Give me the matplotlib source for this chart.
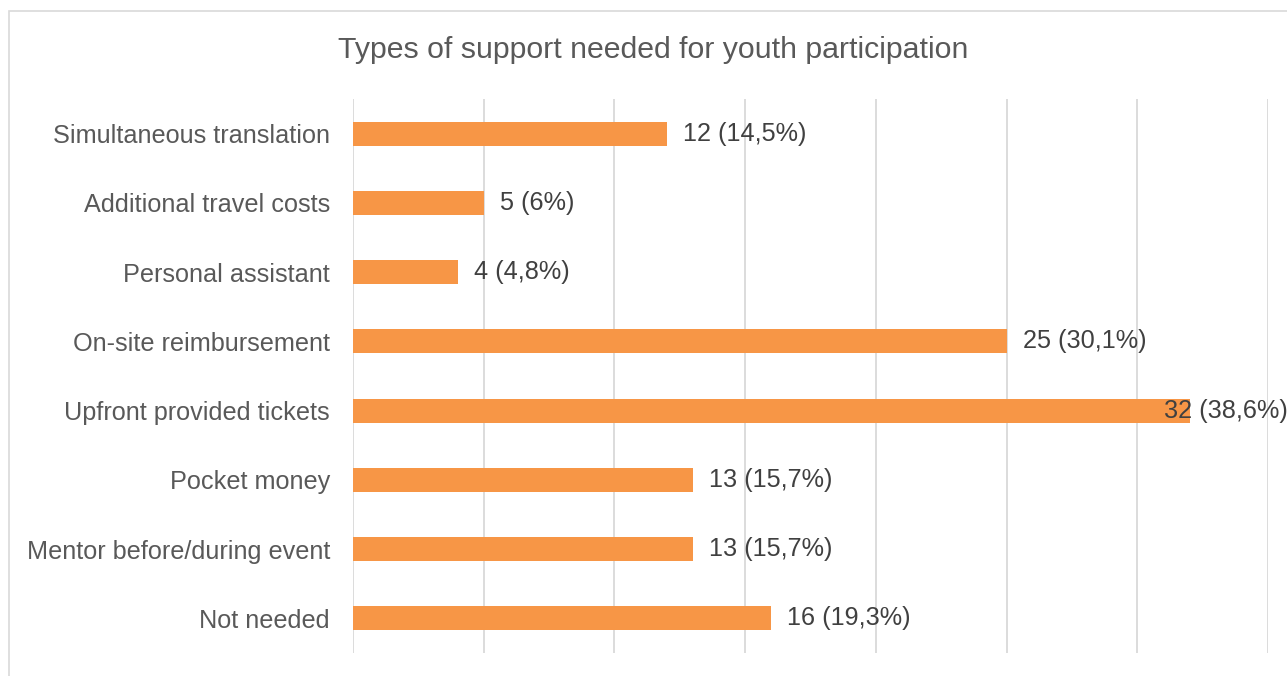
import matplotlib
matplotlib.use("Agg")
import matplotlib.pyplot as plt
from matplotlib.patches import Rectangle

categories = [
    "Simultaneous translation",
    "Additional travel costs",
    "Personal assistant",
    "On-site reimbursement",
    "Upfront provided tickets",
    "Pocket money",
    "Mentor before/during event",
    "Not needed",
]
counts = [12, 5, 4, 25, 32, 13, 13, 16]
shares = ["14,5%", "6%", "4,8%", "30,1%", "38,6%", "15,7%", "15,7%", "19,3%"]
x_ticks = [0, 5, 10, 15, 20, 25, 30, 35]

title = "Types of support needed for youth participation"
bar_color = "#F79646"
text_color = "#595959"
value_color = "#404040"
grid_color = "#D9D9D9"

plt.rcParams["font.family"] = ["Liberation Sans", "DejaVu Sans"]

W, H, DPI = 1287, 676, 100
fig = plt.figure(figsize=(W / DPI, H / DPI), dpi=DPI)

# chart frame
fig.patches.append(Rectangle((9 / W, -0.1), 1.2, 1 - 11 / H + 0.1,
                             transform=fig.transFigure, fill=False,
                             edgecolor=grid_color, linewidth=1.2))

left, right, top, bottom = 353, 1268, 99, 653
ax = fig.add_axes([left / W, 1 - bottom / H, (right - left) / W, (bottom - top) / H])

label_size = 18.2
ypos = list(range(len(categories)))
ax.barh(ypos, counts, height=0.35, color=bar_color, zorder=3)
ax.set_ylim(len(categories) - 0.5, -0.5)
ax.set_xlim(x_ticks[0], x_ticks[-1])
ax.set_xticks(x_ticks)
ax.set_xticklabels([])
ax.tick_params(axis="x", length=0)
ax.grid(axis="x", color=grid_color, linewidth=1.3, zorder=0)
ax.set_yticks(ypos)
ax.set_yticklabels(categories, fontsize=label_size, color=text_color)
ax.tick_params(axis="y", length=0, pad=16.5)
for s in ax.spines.values():
    s.set_visible(False)

renderer = fig.canvas.get_renderer()
for y, c, p in zip(ypos, counts, shares):
    t = ax.annotate(f"{c} ({p})", xy=(c, y), xytext=(11.5, 0), textcoords="offset points",
                    ha="left", va="center", fontsize=label_size, color=value_color, zorder=4)
    bb = t.get_window_extent(renderer)
    if bb.x1 > W:
        # not enough room: push the label back against the frame edge
        t.remove()
        fig.text((W + 1) / W, ax.transData.transform((c, y))[1] / H, f"{c} ({p})",
                 ha="right", va="center", fontsize=label_size, color=value_color, zorder=5)

fig.text(653 / W, 1 - 50 / H, title, ha="center", va="center",
         fontsize=21.8, color=text_color)

fig.savefig("out.png", dpi=DPI)
